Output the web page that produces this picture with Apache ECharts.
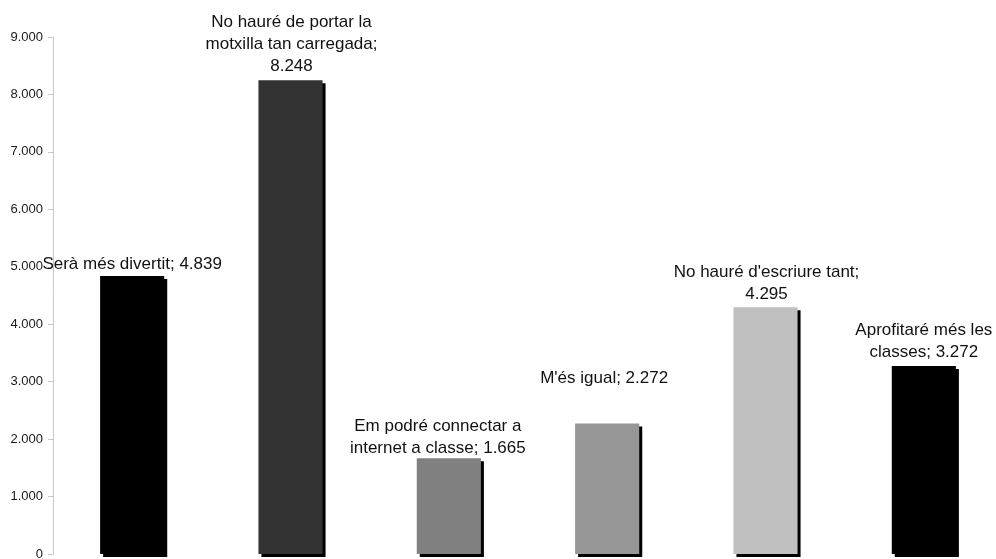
<!DOCTYPE html>
<html>
<head>
<meta charset="utf-8">
<script src="https://cdn.jsdelivr.net/npm/echarts@6/dist/echarts.min.js"></script>
<style>html,body{margin:0;padding:0;background:#fff}#c{width:996px;height:559px}</style>
</head>
<body>
<div id="c"></div>
<script>
var categories = ["Serà més divertit", "No hauré de portar la\nmotxilla tan carregada", "Em podré connectar a\ninternet a classe", "M'és igual", "No hauré d'escriure tant", "Aprofitaré més les\nclasses"];
var values = [4839, 8248, 1665, 2272, 4295, 3272];
var separators = ["; ", ";\n", "; ", "; ", ";\n", "; "];
var yTicks = [0, 1000, 2000, 3000, 4000, 5000, 6000, 7000, 8000, 9000];

var colors = ["#000000", "#333333", "#808080", "#969696", "#c0c0c0", "#000000"];
var labelDist = [1, 3, -1, 34, 2, 3];
var labelOff = [[0,0],[1,0],[-11,0],[-3,0],[1,0],[0,0]];

function fmt(v){ return String(v).replace(/\B(?=(\d{3})+(?!\d))/g, '.'); }

var chart = echarts.init(document.getElementById('c'));
chart.setOption({
  animation: false,
  grid: {left: 53, top: 37, width: 950, height: 517, containLabel: false, outerBoundsMode: 'none'},
  xAxis: {
    type: 'category', data: categories,
    axisLine: {show: false}, axisTick: {show: false}, axisLabel: {show: false}
  },
  yAxis: {
    type: 'value', min: yTicks[0], max: yTicks[yTicks.length-1], interval: 1000,
    axisLine: {show: true, lineStyle: {color: '#c8c8c8'}},
    axisTick: {show: true, length: 5, lineStyle: {color: '#c8c8c8'}},
    splitLine: {show: false},
    axisLabel: {formatter: fmt, color: '#1a1a1a', fontSize: 13, fontFamily: 'Liberation Sans, Arial, sans-serif', margin: 10}
  },
  series: [{
    type: 'bar',
    barWidth: '40.5%',
    data: values.map(function(v, i){
      return {
        value: v,
        itemStyle: {color: colors[i]},
        label: {distance: labelDist[i], offset: labelOff[i]}
      };
    }),
    itemStyle: {
      borderWidth: 0,
      shadowColor: '#000', shadowOffsetX: 3, shadowOffsetY: 3, shadowBlur: 0
    },
    label: {
      show: true, position: 'top',
      color: '#111', fontSize: 17, lineHeight: 22,
      fontFamily: 'Liberation Sans, Arial, sans-serif',
      formatter: function(p){ return categories[p.dataIndex] + separators[p.dataIndex] + fmt(p.value); }
    }
  }]
});
</script>
</body>
</html>
